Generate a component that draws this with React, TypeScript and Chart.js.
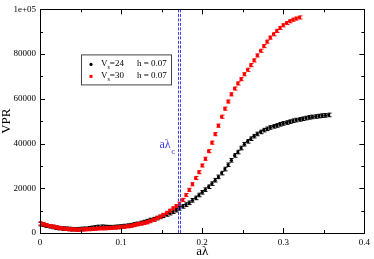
import { useEffect, useRef } from "react";
import { Chart, registerables } from "chart.js";

Chart.register(...registerables);

// a*lambda values (shared x grid)
const xValues = [
  0, 0.004, 0.008, 0.012, 0.016, 0.02, 0.024, 0.028, 0.032, 0.036,
  0.04, 0.044, 0.048, 0.052, 0.056, 0.06, 0.064, 0.068, 0.072, 0.076,
  0.08, 0.084, 0.088, 0.092, 0.096, 0.1, 0.104, 0.108, 0.112, 0.116,
  0.12, 0.124, 0.128, 0.132, 0.136, 0.14, 0.144, 0.148, 0.152, 0.156,
  0.16, 0.164, 0.168, 0.172, 0.176, 0.18, 0.184, 0.188, 0.192, 0.196,
  0.2, 0.204, 0.208, 0.212, 0.216, 0.22, 0.224, 0.228, 0.232, 0.236,
  0.24, 0.244, 0.248, 0.252, 0.256, 0.26, 0.264, 0.268, 0.272, 0.276,
  0.28, 0.284, 0.288, 0.292, 0.296, 0.3, 0.304, 0.308, 0.312, 0.316,
  0.32, 0.324, 0.328, 0.332, 0.336, 0.34, 0.344, 0.348, 0.352, 0.356,
];

// V_s = 24, h = 0.07 (black)
const vs24Values = [
  4000, 3700, 3300, 3000, 2700, 2400, 2200, 2000, 1900, 1800,
  1700, 1650, 1700, 1800, 1900, 2100, 2300, 2500, 2700, 2800,
  2700, 2600, 2600, 2700, 2800, 2900, 3100, 3300, 3500, 3800,
  4100, 4500, 4900, 5300, 5800, 6200, 6700, 7200, 7700, 8300,
  8900, 9500, 10200, 11000, 11900, 12700, 13500, 14600, 15700, 17000,
  18200, 19400, 20700, 22100, 23600, 25100, 26800, 28600, 30500, 32500,
  34700, 36200, 38000, 39700, 41000, 42200, 43300, 44300, 45200, 46000,
  46600, 47200, 47700, 48100, 48600, 49000, 49400, 49800, 50200, 50500,
  50800, 51100, 51400, 51700, 51900, 52100, 52300, 52500, 52600, 52800,
];

// V_s = 30, h = 0.07 (red)
const vs30Values = [
  4300, 3900, 3500, 3100, 2800, 2500, 2200, 2000, 1850, 1700,
  1600, 1550, 1500, 1550, 1600, 1700, 1800, 1900, 2000, 2050,
  2100, 2200, 2300, 2400, 2500, 2650, 2800, 3000, 3250, 3550,
  3900, 4200, 4500, 4800, 5300, 5900, 6600, 7300, 8100, 9000,
  10000, 11000, 12000, 13100, 14800, 17000, 19300, 21800, 24600, 27200,
  30200, 33200, 36600, 40400, 44200, 48000, 52000, 55600, 58800, 62000,
  64600, 66900, 68800, 71000, 73000, 75100, 77200, 79400, 81500, 83600,
  85600, 87400, 88900, 90400, 91700, 92900, 93900, 94700, 95400, 95900,
  96400,
];

const vs24Error = 800;
const vs30Error = 700;

const seriesLabels = ["24", "30"];
const hLabel = "h = 0.07";
const lambdaC = 0.171;

const xMin = 0, xMax = 0.4, xMajor = 0.1, xMinor = 0.05;
const yMin = 0, yMax = 100000, yMajor = 20000, yMinor = 10000;

const SERIF = "'Liberation Serif', 'Times New Roman', serif";
const BLUE = "#3c3ce6";

const errors = [vs24Error, vs30Error];

const decorPlugin = {
  id: "decor",
  afterDatasetDraw(chart: any, args: any) {
    const ctx = chart.ctx;
    const ds = chart.data.datasets[args.index];
    const e = errors[args.index];
    const y = chart.scales.y;
    ctx.save();
    ctx.strokeStyle = ds.backgroundColor;
    ctx.lineWidth = 1;
    args.meta.data.forEach((pt: any, i: number) => {
      const v = ds.data[i].y;
      const y1 = y.getPixelForValue(v + e);
      const y2 = y.getPixelForValue(v - e);
      const px = Math.round(pt.x) + 0.5;
      ctx.beginPath();
      ctx.moveTo(px, y1);
      ctx.lineTo(px, y2);
      ctx.moveTo(px - 2, y1);
      ctx.lineTo(px + 2, y1);
      ctx.moveTo(px - 2, y2);
      ctx.lineTo(px + 2, y2);
      ctx.stroke();
    });
    ctx.restore();
  },
  afterDraw(chart: any) {
    const ctx = chart.ctx;
    const { left, right, top, bottom } = chart.chartArea;
    const xs = chart.scales.x;
    const ys = chart.scales.y;
    ctx.save();

    // critical lambda line (double dashed)
    const lx = xs.getPixelForValue(lambdaC);
    ctx.strokeStyle = BLUE;
    ctx.lineWidth = 1;
    ctx.setLineDash([3, 1.5]);
    [-1, 1].forEach((d) => {
      ctx.beginPath();
      ctx.moveTo(Math.round(lx) + d + 0.5, top);
      ctx.lineTo(Math.round(lx) + d + 0.5, bottom);
      ctx.stroke();
    });
    ctx.setLineDash([]);

    // frame
    ctx.strokeStyle = "#000";
    ctx.lineWidth = 1;
    ctx.strokeRect(Math.round(left) + 0.5, Math.round(top) + 0.5, Math.round(right - left), Math.round(bottom - top));

    // ticks
    ctx.beginPath();
    for (let v = xMin; v <= xMax + 1e-9; v += xMinor) {
      const major = Math.abs(v / xMajor - Math.round(v / xMajor)) < 1e-6;
      const len = major ? 5 : 3;
      const px = Math.round(xs.getPixelForValue(v)) + 0.5;
      ctx.moveTo(px, bottom);
      ctx.lineTo(px, bottom - len);
      ctx.moveTo(px, top);
      ctx.lineTo(px, top + len);
    }
    for (let v = yMin; v <= yMax + 1e-9; v += yMinor) {
      const major = Math.abs(v / yMajor - Math.round(v / yMajor)) < 1e-6;
      const len = major ? 5 : 3;
      const py = Math.round(ys.getPixelForValue(v)) + 0.5;
      ctx.moveTo(left, py);
      ctx.lineTo(left + len, py);
      ctx.moveTo(right, py);
      ctx.lineTo(right - len, py);
    }
    ctx.stroke();

    // axis titles
    ctx.fillStyle = "#000";
    ctx.font = `13px ${SERIF}`;
    ctx.textAlign = "center";
    ctx.textBaseline = "middle";
    ctx.fillText("a\u03bb", (left + right) / 2, 252);
    ctx.save();
    ctx.translate(7, (top + bottom) / 2);
    ctx.rotate(-Math.PI / 2);
    ctx.fillText("VPR", 0, 0);
    ctx.restore();

    // a lambda_c annotation
    ctx.fillStyle = BLUE;
    ctx.font = `12px ${SERIF}`;
    ctx.textAlign = "right";
    ctx.fillText("a\u03bb", lx - 8, 145);
    ctx.font = `9px ${SERIF}`;
    ctx.textAlign = "left";
    ctx.fillText("c", lx - 7.5, 152);

    // legend
    const bx = left + 41, by = top + 45, bw = 90, bh = 30;
    ctx.fillStyle = "#fff";
    ctx.fillRect(bx, by, bw, bh);
    ctx.strokeStyle = "#444";
    ctx.strokeRect(bx + 0.5, by + 0.5, bw, bh);
    const colors = ["#000", "#ff0000"];
    seriesLabels.forEach((lab, i) => {
      const cy = by + 9 + i * 12;
      ctx.fillStyle = colors[i];
      if (i === 0) {
        ctx.beginPath();
        ctx.arc(bx + 10, cy + 1, 1.6, 0, Math.PI * 2);
        ctx.fill();
      } else {
        ctx.fillRect(bx + 8.5, cy - 0.5, 3, 3);
      }
      ctx.fillStyle = "#000";
      ctx.textAlign = "left";
      ctx.textBaseline = "middle";
      ctx.font = `9px ${SERIF}`;
      let tx = bx + 20;
      ctx.fillText("V", tx, cy);
      tx += ctx.measureText("V").width;
      ctx.font = `6px ${SERIF}`;
      ctx.fillText("s", tx, cy + 4);
      tx += ctx.measureText("s").width;
      ctx.font = `9px ${SERIF}`;
      ctx.fillText("=" + lab, tx, cy);
      ctx.fillText(hLabel, bx + 56, cy);
    });

    ctx.restore();
  },
};

export default function App() {
  const ref = useRef<HTMLCanvasElement>(null);

  useEffect(() => {
    document.body.style.margin = "0";
    const canvas = ref.current;
    if (!canvas) return;
    const chart = new Chart(canvas, {
      type: "scatter",
      data: {
        datasets: [
          {
            label: "Vs=24",
            data: vs24Values.map((v, i) => ({ x: xValues[i], y: v })),
            backgroundColor: "#000000",
            borderColor: "#000000",
            pointStyle: "circle",
            pointRadius: 1.6,
            pointBorderWidth: 0,
            showLine: false,
            order: 2,
          },
          {
            label: "Vs=30",
            data: vs30Values.map((v, i) => ({ x: xValues[i], y: v })),
            backgroundColor: "#ff0000",
            borderColor: "#ff0000",
            pointStyle: "rect",
            pointRadius: 2.2,
            pointBorderWidth: 0,
            showLine: false,
            order: 1,
          },
        ],
      },
      options: {
        responsive: false,
        animation: false,
        devicePixelRatio: 1,
        layout: { padding: { left: 0, top: 5, right: 6, bottom: 0 } },
        plugins: { legend: { display: false }, tooltip: { enabled: false } },
        scales: {
          x: {
            type: "linear",
            min: xMin,
            max: xMax,
            grid: { display: false, drawTicks: false },
            border: { display: false },
            afterFit: (s: any) => { s.height = 26; },
            ticks: {
              stepSize: xMajor,
              padding: 4,
              color: "#000",
              font: { family: SERIF, size: 9 },
              maxRotation: 0,
              callback: (v: any) => String(Number(Number(v).toFixed(2))),
            },
          },
          y: {
            type: "linear",
            min: yMin,
            max: yMax,
            grid: { display: false, drawTicks: false },
            border: { display: false },
            afterFit: (s: any) => { s.width = 40; },
            ticks: {
              stepSize: yMajor,
              padding: 4,
              color: "#000",
              font: { family: SERIF, size: 9 },
              callback: (v: any) => (Number(v) === 100000 ? "1e+05" : String(v)),
            },
          },
        },
      },
      plugins: [decorPlugin],
    } as any);
    return () => chart.destroy();
  }, []);

  return (
    <div style={{ width: 374, height: 259 }}>
      <canvas ref={ref} width={374} height={259} />
    </div>
  );
}
